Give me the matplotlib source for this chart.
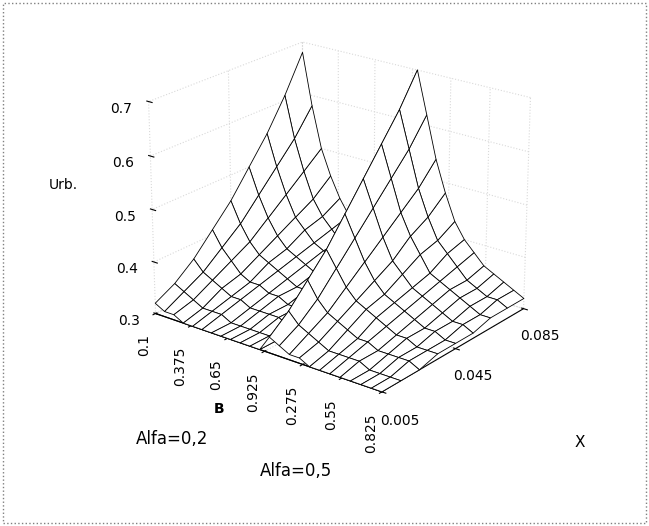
import numpy as np
import matplotlib.pyplot as plt

b_labels = ["0.1", "0.375", "0.65", "0.925", "0.275", "0.55", "0.825"]
x_vals = [0.005, 0.015, 0.025, 0.035, 0.045, 0.055, 0.065, 0.075, 0.085]
x_ticks = [0.005, 0.045, 0.085]

# Urb. values, rows = B steps, columns = X
urb_alfa02 = [
    [0.32, 0.34, 0.37, 0.41, 0.45, 0.50, 0.55, 0.61, 0.68],
    [0.31, 0.33, 0.35, 0.38, 0.41, 0.45, 0.49, 0.53, 0.58],
    [0.31, 0.32, 0.34, 0.36, 0.38, 0.41, 0.44, 0.47, 0.50],
    [0.30, 0.31, 0.33, 0.34, 0.36, 0.38, 0.40, 0.42, 0.45],
    [0.30, 0.31, 0.32, 0.33, 0.35, 0.36, 0.38, 0.39, 0.41],
    [0.30, 0.31, 0.32, 0.33, 0.34, 0.35, 0.36, 0.37, 0.38],
    [0.30, 0.30, 0.31, 0.32, 0.33, 0.34, 0.35, 0.35, 0.36],
    [0.30, 0.30, 0.31, 0.32, 0.32, 0.33, 0.34, 0.34, 0.35],
    [0.30, 0.30, 0.31, 0.31, 0.32, 0.32, 0.33, 0.33, 0.34],
    [0.30, 0.30, 0.31, 0.31, 0.31, 0.32, 0.32, 0.33, 0.33],
    [0.30, 0.30, 0.30, 0.31, 0.31, 0.31, 0.32, 0.32, 0.32],
    [0.30, 0.30, 0.30, 0.31, 0.31, 0.31, 0.31, 0.32, 0.32],
]
urb_alfa05 = [
    [0.33, 0.36, 0.40, 0.44, 0.49, 0.54, 0.59, 0.64, 0.70],
    [0.32, 0.34, 0.37, 0.41, 0.45, 0.49, 0.53, 0.57, 0.62],
    [0.31, 0.33, 0.35, 0.38, 0.41, 0.44, 0.47, 0.50, 0.54],
    [0.31, 0.32, 0.34, 0.36, 0.38, 0.40, 0.43, 0.45, 0.48],
    [0.30, 0.31, 0.33, 0.35, 0.36, 0.38, 0.40, 0.41, 0.43],
    [0.30, 0.31, 0.32, 0.34, 0.35, 0.36, 0.37, 0.39, 0.40],
    [0.30, 0.31, 0.32, 0.33, 0.34, 0.35, 0.36, 0.37, 0.38],
    [0.30, 0.31, 0.31, 0.32, 0.33, 0.34, 0.35, 0.35, 0.36],
    [0.30, 0.30, 0.31, 0.32, 0.32, 0.33, 0.34, 0.34, 0.35],
    [0.30, 0.30, 0.31, 0.31, 0.32, 0.32, 0.33, 0.33, 0.34],
    [0.30, 0.30, 0.31, 0.31, 0.31, 0.32, 0.32, 0.33, 0.33],
    [0.30, 0.30, 0.30, 0.31, 0.31, 0.31, 0.32, 0.32, 0.32],
]

Z = np.array(urb_alfa02 + urb_alfa05)
nb = Z.shape[0]
bi = np.arange(nb)
BX, XX = np.meshgrid(bi, x_vals, indexing="ij")

fig = plt.figure(figsize=(6.49, 5.26), dpi=100)
ax = fig.add_axes([0.03, 0.19, 0.97, 0.81], projection="3d")
ax.plot_surface(BX, XX, Z, color="white", edgecolor="black", linewidth=0.6,
                shade=False, rstride=1, cstride=1)
ax.view_init(elev=22, azim=-52)
ax.set_zlim(0.3, 0.7)
ax.set_xlim(0, nb - 1)
ax.set_ylim(0.005, 0.085)
ax.set_xticks(np.linspace(0, nb - 1, len(b_labels)))
ax.set_xticklabels(b_labels, rotation=90, fontsize=10)
ax.set_yticks(x_ticks)
ax.set_yticklabels([str(v) for v in x_ticks], fontsize=10)
ax.set_zticks([0.3, 0.4, 0.5, 0.6, 0.7])
ax.set_zticklabels(["0.3", "0.4", "0.5", "0.6", "0.7"], fontsize=10)
ax.zaxis._axinfo["juggled"] = (1, 0, 2)
for a in (ax.xaxis, ax.yaxis, ax.zaxis):
    a.set_pane_color((1, 1, 1, 0))
    a._axinfo["grid"]["color"] = (0.85, 0.85, 0.85, 1)
    a._axinfo["grid"]["linestyle"] = ":"
ax.set_box_aspect((1.2, 1.0, 0.95), zoom=1.0)

fig.text(0.075, 0.64, "Urb.", fontsize=10)
fig.text(0.885, 0.15, "X", fontsize=11)
fig.text(0.33, 0.215, "B", fontsize=10, fontweight="bold")
fig.text(0.21, 0.155, "Alfa=0,2", fontsize=12)
fig.text(0.40, 0.095, "Alfa=0,5", fontsize=12)
fig.patches.append(plt.Rectangle((0.005, 0.005), 0.99, 0.99, transform=fig.transFigure,
                                 fill=False, edgecolor="gray", linestyle=":", linewidth=1))
fig.savefig("out.png", dpi=100)
